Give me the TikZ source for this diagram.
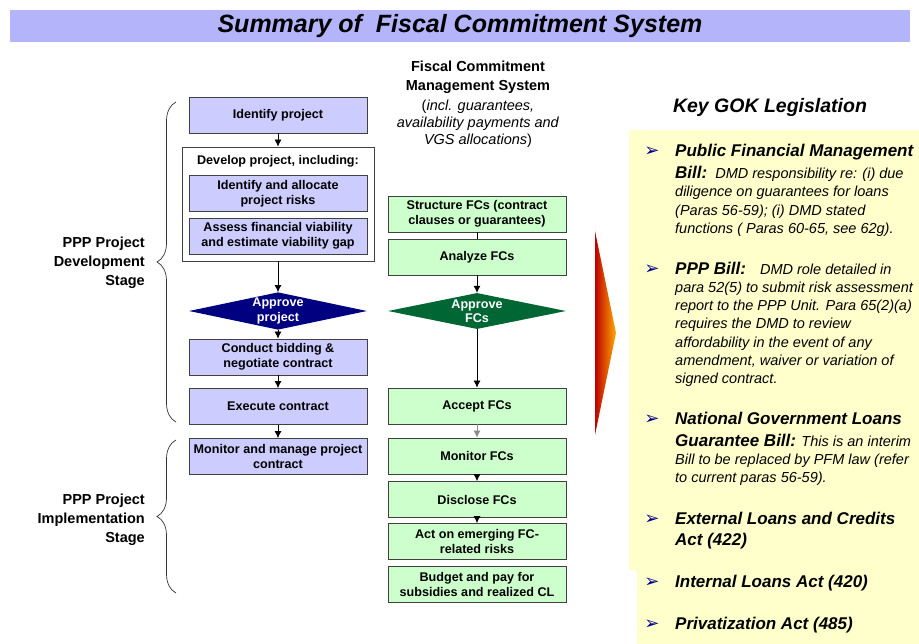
\documentclass[tikz,border=0pt]{standalone}
\usepackage{fontspec}
\setmainfont{Liberation Sans}
\newfontfamily\dingfont{DejaVu Sans}
\usepackage{tikz}
\usetikzlibrary{arrows,arrows.meta,shapes.geometric,decorations.pathreplacing}

\definecolor{barfill}{RGB}{180,180,250}
\definecolor{projfill}{RGB}{204,204,255}
\definecolor{fcfill}{RGB}{204,255,204}
\definecolor{boxline}{RGB}{64,64,64}
\definecolor{navyfill}{RGB}{0,0,128}
\definecolor{greenfill}{RGB}{0,102,51}
\definecolor{legfill}{RGB}{255,255,204}
\definecolor{bulletcol}{RGB}{0,0,140}
\definecolor{chevred}{RGB}{190,0,0}
\definecolor{chevmid}{RGB}{205,25,0}
\definecolor{chevorange}{RGB}{255,170,0}

\newcommand\leghead[1]{{\bfseries\fontsize{17}{18.2}\selectfont #1}}

\begin{document}
\begin{tikzpicture}[x=1pt,y=-1pt,>={Latex[length=7pt,width=7pt]},
	box/.style={draw=boxline,line width=0.8pt,minimum width=178pt,minimum height=36pt,inner sep=1pt,align=center,font=\bfseries\fontsize{12.6}{14.5}\selectfont},
	projbox/.style={box,fill=projfill},
	fcbox/.style={box,fill=fcfill},
	approve/.style={diamond,aspect=4.5,inner sep=0pt,minimum width=178pt,minimum height=36pt,text=white,align=center,font=\bfseries\fontsize{12.6}{14}\selectfont},
	stage/.style={align=right,anchor=east,inner sep=0pt,font=\bfseries\fontsize{14.5}{19}\selectfont},
	leg/.style={anchor=north west,inner sep=0pt,align=left,font=\itshape\fontsize{14.5}{18.2}\selectfont},
	legbullet/.style={text=bulletcol,inner sep=0pt,font=\dingfont\fontsize{18}{18}\selectfont},
	stagebrace/.style={decorate,decoration={brace,amplitude=19pt},draw=black!80,line width=0.7pt}]
\useasboundingbox (0,0) rectangle (919,644);
\fill[white] (0,0) rectangle (919,644);

\node[fill=barfill,minimum width=900pt,minimum height=32pt,inner sep=0pt,font=\bfseries\itshape\fontsize{25}{28}\selectfont] (title) at (460,26) {Summary of~ Fiscal Commitment System};

% project column
\node[projbox] (ident) at (278,115) {Identify project};
\node[draw=boxline,fill=white,line width=0.8pt,minimum width=192pt,minimum height=114pt] (develop) at (278,204) {};
\node[font=\bfseries\fontsize{12.6}{14.5}\selectfont] (devtitle) at (278,161) {Develop project, including:};
\node[projbox] (risks) at (278,193.5) {Identify and allocate\\project risks};
\node[projbox] (viab) at (278,236) {Assess financial viability\\and estimate viability gap};
\node[approve,fill=navyfill] (approj) at (278,311) {\raisebox{-2pt}{\shortstack{Approve\\project}}};
\node[projbox] (bidding) at (278,357) {Conduct bidding \&\\negotiate contract};
\node[projbox] (execute) at (278,406.5) {Execute contract};
\node[projbox] (manage) at (278,456.5) {Monitor and manage project\\contract};

% FC column
\node[align=center,anchor=north,inner sep=0pt,font=\fontsize{14.5}{17}\selectfont] (fchead) at (478,60.5)
	{\textbf{Fiscal Commitment}\\[2pt]\textbf{Management System}\\[3pt](\textit{incl. guarantees,}\\\textit{availability payments and}\\\textit{VGS allocations})};
\node[fcbox] (structure) at (477,214) {Structure FCs (contract\\clauses or guarantees)};
\node[fcbox] (analyze) at (477,257) {Analyze FCs};
\node[approve,fill=greenfill] (apfc) at (477,311) {\raisebox{-2pt}{\shortstack{Approve\\FCs}}};
\node[fcbox] (accept) at (477,406) {Accept FCs};
\node[fcbox] (monitor) at (477,456) {Monitor FCs};
\node[fcbox] (disclose) at (477,499.5) {Disclose FCs};
\node[fcbox] (act) at (477,541.5) {Act on emerging FC-\\related risks};
\node[fcbox] (budget) at (477,584.5) {Budget and pay for\\subsidies and realized CL};

\path[->,line width=0.8pt]
(ident) edge (develop)
(develop) edge (approj)
(approj) edge (bidding)
(bidding) edge (execute)
(execute) edge (manage)
(structure) edge[-] (analyze)
(analyze) edge (apfc)
(apfc) edge (accept)
(accept) edge[draw=black!45] (monitor)
(monitor) edge (disclose)
(disclose) edge (act)
;

% stages
\node[stage] (devstage) at (145,263) {PPP Project\\Development\\Stage};
\node[stage] (impstage) at (145,520) {PPP Project\\Implementation\\Stage};
\draw[stagebrace] (176,422) -- (176,102);
\draw[stagebrace] (176,593) -- (176,440);

\shade[left color=chevred,middle color=chevmid,right color=chevorange] (595,231) -- (616,333) -- (595,435) -- cycle;

% legislation panel
\fill[legfill] (629,130) rectangle (925,570);
\fill[legfill] (637,560) rectangle (925,650);
\node[font=\bfseries\itshape\fontsize{19.5}{23}\selectfont] (keyleg) at (770,107) {Key GOK Legislation};

\foreach \y [count=\i] in {152,270,420,520,583,625}
	\node[legbullet] (bullet\i) at (652,\y) {➢};

\node[leg] (pfm) at (675,143.7) {\leghead{Public Financial Management}\\[4.3pt]\leghead{Bill:}\hspace{8pt}DMD responsibility re: (i) due\\diligence on guarantees for loans\\(Paras 56-59); (i) DMD stated\\functions ( Paras 60-65, see 62g).};
\node[leg] (pppbill) at (675,261.8) {\leghead{PPP Bill:}\hspace{14pt}DMD role detailed in\\para 52(5) to submit risk assessment\\report to the PPP Unit. Para 65(2)(a)\\requires the DMD to review\\affordability in the event of any\\amendment, waiver or variation of\\signed contract.};
\node[leg] (ngl) at (675,411.7) {\leghead{National Government Loans}\\[3.8pt]\leghead{Guarantee Bill:} This is an interim\\Bill to be replaced by PFM law (refer\\to current paras 56-59).};
\node[leg] (external) at (675,511.7) {\leghead{External Loans and Credits}\\[2.8pt]\leghead{Act (422)}};
\node[leg,anchor=base west] (internal) at (675,587) {\leghead{Internal Loans Act (420)}};
\node[leg,anchor=base west] (privat) at (675,629) {\leghead{Privatization Act (485)}};
\end{tikzpicture}
\end{document}
